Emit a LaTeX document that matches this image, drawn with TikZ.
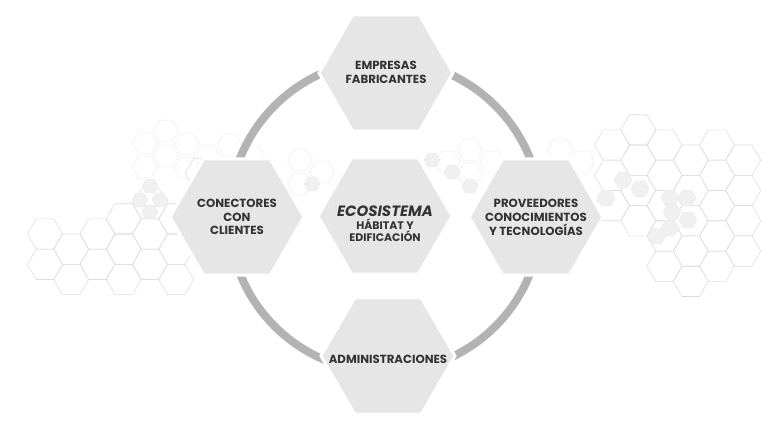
\documentclass[tikz,border=0pt]{standalone}
\usepackage{fontspec}
\setmainfont{Poppins}
\usetikzlibrary{shapes.geometric}
\definecolor{hexfill}{HTML}{E6E6E6}
\definecolor{ringc}{HTML}{B3B3B3}
\definecolor{txt}{HTML}{333333}
\definecolor{bgl}{HTML}{DDDDDD}
\definecolor{bgf}{HTML}{F0F0F0}
\tikzset{
  bgline/.style={draw=bgl, line width=0.6bp},
  bgfaint/.style={draw=bgl!60, line width=0.5bp},
  bgfill/.style={fill=bgf, draw=bgl!60, line width=0.5bp},
  mainhex/.style={regular polygon, regular polygon sides=6, minimum size=134bp,
    inner sep=0pt, fill=hexfill, draw=white, line width=3bp},
  lbl/.style={text=txt, align=center, font=\fontsize{11.8}{13.8}\selectfont\bfseries},
  ring/.style={draw=ringc, line width=8bp}
}
\newcommand\bghex[4][bgline]{\path[#1] (#2,#3) +(0:#4) -- +(60:#4) -- +(120:#4) -- +(180:#4) -- +(240:#4) -- +(300:#4) -- cycle;}
\begin{document}
\begin{tikzpicture}[x=1bp,y=-1bp]
\useasboundingbox (0,0) rectangle (770,430);
% ---------- background honeycomb, left ----------
\foreach \i/\js in {0/{0,1},1/{0,1},2/{0,1},3/{-1,0,1},4/{-1,0,1},5/{-1,0,1},6/{-2,-1,0},7/{-2}}{
  \foreach \j in \js {
    \pgfmathsetmacro\xx{45+26.25*\i}
    \pgfmathsetmacro\yy{234+30.3*\j+15.15*mod(\i,2)}
    \bghex{\xx}{\yy}{17.5}
  }
}
% small pattern above left hex
\foreach \xx/\yy in {166/131,187/144,145/167,166/156,187/168,145/143,208/156}{
  \bghex[bgfaint]{\xx}{\yy}{12.5}
}
\foreach \xx/\yy in {150/186,160/200,140/200,150/212}{
  \bghex[bgfill]{\xx}{\yy}{8}
}
% ---------- background honeycomb, right ----------
\foreach \i/\js in {-4/{0,1,2},-3/{-1,0,1,2},-2/{0,1,2,3,4},-1/{0,1,2,3,4},0/{0,1,2,3,4},1/{0,1,2,3}}{
  \foreach \j in \js {
    \pgfmathsetmacro\xx{717+26.25*\i}
    \pgfmathsetmacro\yy{145+30.3*\j+15.15*mod(abs(\i),2)}
    \bghex{\xx}{\yy}{17.5}
  }
}
\foreach \xx/\yy in {623/180,640/189,670/198,687/198,672/212,688/220,657/236,670/228,606/198}{
  \bghex[bgfill]{\xx}{\yy}{9}
}
% ---------- faint pattern behind the centre ----------
\foreach \xx/\yy in {300/160,322/172,300/184,470/150,492/162,470/174,448/162,560/150,582/162,230/145,252/157}{
  \bghex[bgfaint]{\xx}{\yy}{12.5}
}
\foreach \xx/\yy in {312/184,432/160,452/172,470/186}{
  \bghex[bgfill]{\xx}{\yy}{8}
}
% ---------- main hexagons ----------
\node[mainhex] (eco) at (385,216) {};
\draw[ring] (eco.center) circle[radius=156];
\node[mainhex] (emp) at (386,73) {};
\node[mainhex] (con) at (237,217) {};
\node[mainhex] (eco2) at (385,216) {};
\node[mainhex] (pro) at (536,217) {};
\node[mainhex] (adm) at (388,356) {};
% ---------- labels ----------
\node[lbl] (tEmp) at ([yshift=1bp]emp.center) {EMPRESAS\\FABRICANTES};
\node[lbl] (tCon) at (con.center) {CONECTORES\\CON\\CLIENTES};
\node[lbl] (tPro) at ([yshift=-0.5bp]pro.center) {PROVEEDORES\\CONOCIMIENTOS\\Y TECNOLOGÍAS};
\node[lbl] (tAdm) at ([yshift=-3bp]adm.center) {ADMINISTRACIONES};
\node[lbl, font=\fontsize{11}{12.5}\selectfont\bfseries] (tEco) at ([yshift=-8bp]eco2.center)
  {{\fontsize{15}{14}\selectfont\bfseries\itshape ECOSISTEMA}\\HÁBITAT Y\\EDIFICACIÓN};
\end{tikzpicture}
\end{document}
